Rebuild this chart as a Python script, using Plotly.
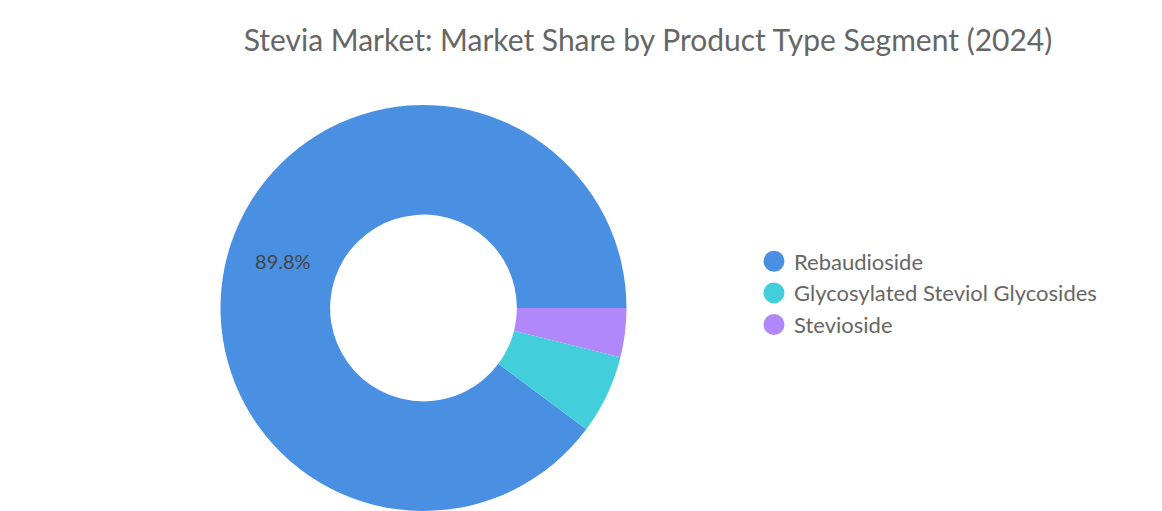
import plotly.graph_objects as go

categories = ["Rebaudioside", "Glycosylated Steviol Glycosides", "Stevioside"]
shares = [89.8, 6.3, 3.9]
colors = ["#4A90E2", "#42CFDB", "#B088FA"]
slice_labels = ["89.8%", "", ""]

FONT = "Lato, 'Open Sans', sans-serif"

# first slice begins at 3 o'clock and runs counterclockwise
start_rot = 90 + 360 * (sum(shares) - shares[0]) / sum(shares)

W, H = 1154, 503

fig = go.Figure()
fig.add_trace(go.Pie(
    labels=categories,
    values=shares,
    text=slice_labels,
    textinfo="text",
    textposition="inside",
    insidetextorientation="horizontal",
    textfont=dict(family=FONT, size=20, color="#444444"),
    marker=dict(colors=colors, line=dict(width=0)),
    hole=0.46,
    sort=False,
    direction="counterclockwise",
    rotation=start_rot,
    showlegend=False,
    domain=dict(x=[0, 831 / W], y=[0, 1]),
))

for name, col in zip(categories, colors):
    fig.add_trace(go.Scatter(
        x=[None], y=[None], mode="markers", name=name,
        legendgroup=name,
        marker=dict(symbol="circle", size=16, color=col, line=dict(color=col, width=5)),
    ))

fig.update_layout(
    width=W, height=H,
    margin=dict(l=0, r=0, t=97, b=0),
    paper_bgcolor="white", plot_bgcolor="white",
    title=dict(
        text="Stevia Market: Market Share by Product Type Segment (2024)",
        x=640 / W, xanchor="center", xref="container",
        y=1 - 32 / H, yanchor="middle", yref="container",
        font=dict(family=FONT, size=30, color="#666666"),
    ),
    xaxis=dict(visible=False),
    yaxis=dict(visible=False),
    legend=dict(
        x=746 / W, xanchor="left", y=0.537, yanchor="middle",
        font=dict(family=FONT, size=22, color="#666666"),
        tracegroupgap=0,
        bgcolor="rgba(0,0,0,0)",
    ),
)

fig.write_html("out.html")
